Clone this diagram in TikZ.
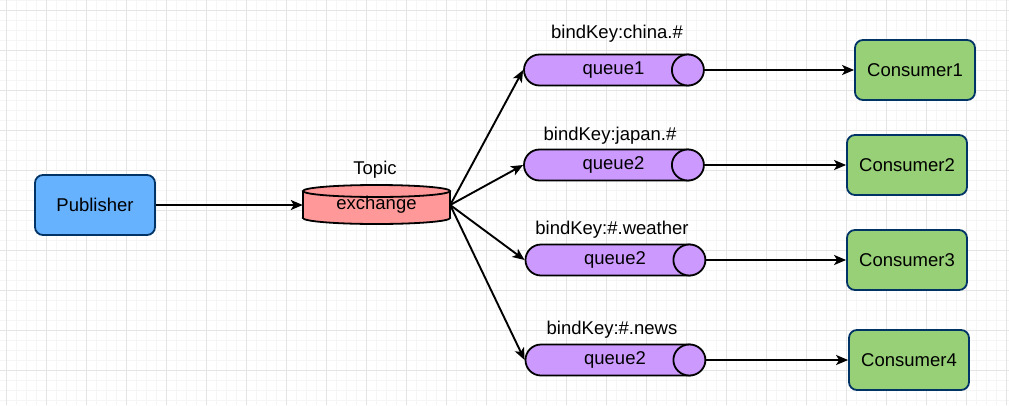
\documentclass[tikz,border=0pt]{standalone}
\usepackage{fontspec}
\setmainfont{Liberation Sans}
\usetikzlibrary{arrows.meta,shapes.misc}
\definecolor{pubblue}{HTML}{66B2FF}
\definecolor{navy}{HTML}{003366}
\definecolor{exred}{HTML}{FF9999}
\definecolor{qpurple}{HTML}{CC99FF}
\definecolor{congreen}{HTML}{97D077}
\definecolor{gridmajor}{HTML}{E4E4E4}
\definecolor{gridminor}{HTML}{F5F5F5}
\tikzset{
  txt/.style={font=\fontsize{18.5}{22}\selectfont, inner sep=0pt},
  box/.style={txt, draw=navy, line width=1.8pt, rounded corners=8pt,
    minimum width=120pt, minimum height=60pt},
  queue/.style={txt, rounded rectangle, draw, fill=qpurple, line width=1.8pt,
    minimum width=179pt, minimum height=31pt},
  link/.style={-{Stealth[length=12pt,width=10pt,inset=3pt]}, line width=1.9pt},
}
\begin{document}
\begin{tikzpicture}[x=1pt,y=-1pt]
  \useasboundingbox (0,0) rectangle (1009,405);
  % background grid
  \foreach \x in {6,16,...,1006} \draw[gridminor,line width=0.8pt] (\x,0) -- (\x,405);
  \foreach \y in {0,10,...,400} \draw[gridminor,line width=0.8pt] (0,\y) -- (1009,\y);
  \foreach \x in {6,46,...,1006} \draw[gridmajor,line width=0.8pt] (\x,0) -- (\x,405);
  \foreach \y in {10,50,...,370} \draw[gridmajor,line width=0.8pt] (0,\y) -- (1009,\y);

  \node[box, fill=pubblue] (pub) at (95,205) {Publisher};

  % exchange cylinder
  \draw[fill=exred, line width=1.8pt] (376.5,218) ellipse[x radius=73.5pt, y radius=6pt];
  \fill[exred] (303,191) rectangle (450,218);
  \draw[line width=1.8pt] (303,191) -- (303,218) (450,191) -- (450,218);
  \draw[fill=exred, line width=1.8pt] (376.5,191) ellipse[x radius=73.5pt, y radius=6pt];
  \node[txt, minimum width=147pt, minimum height=39pt] (ex) at (376.5,205) {exchange};
  \node[txt] (topic) at (375,170) {Topic};

  % queues
  \node[queue] (q1) at (613.5,70) {queue1};
  \node[queue] (q2) at (613.5,165) {queue2};
  \node[queue] (q3) at (615,260) {queue2};
  \node[queue] (q4) at (615,360) {queue2};
  \foreach \q in {q1,q2,q3,q4}
    \draw[fill=qpurple, line width=1.8pt] ([xshift=-16pt]\q.east) ellipse[x radius=16pt, y radius=15.5pt];
  \node[txt] (k1) at (617,34) {bindKey:china.\#};
  \node[txt] (k2) at (610,136) {bindKey:japan.\#};
  \node[txt] (k3) at (612,230) {bindKey:\#.weather};
  \node[txt] (k4) at (612,330) {bindKey:\#.news};

  % consumers
  \node[box, fill=congreen] (c1) at (915,70) {Consumer1};
  \node[box, fill=congreen] (c2) at (907,165) {Consumer2};
  \node[box, fill=congreen] (c3) at (907,260) {Consumer3};
  \node[box, fill=congreen] (c4) at (909,360) {Consumer4};

  \draw[link] (pub) -- (ex.west);
  \draw[link] (ex.east) -- (q1.west);
  \draw[link] (ex.east) -- (q2.west);
  \draw[link] (ex.east) -- (q3.west);
  \draw[link] (ex.east) -- (q4.west);
  \draw[link] (q1.east) -- (c1.west);
  \draw[link] (q2.east) -- (c2.west);
  \draw[link] (q3.east) -- (c3.west);
  \draw[link] (q4.east) -- (c4.west);
\end{tikzpicture}
\end{document}
